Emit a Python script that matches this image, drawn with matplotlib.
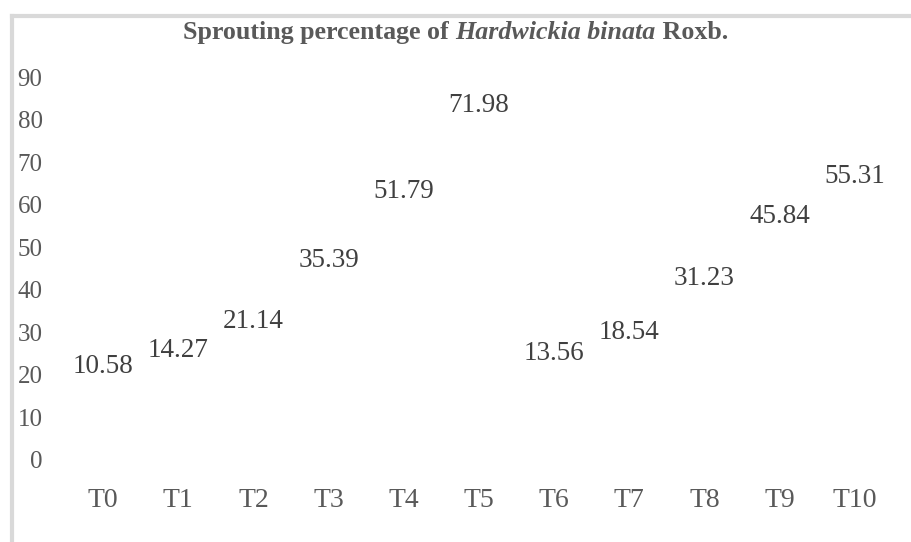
"""
Sprouting percentage of Hardwickia binata Roxb. (label-only column chart)

Output:
    out.png
"""
import matplotlib as mpl
import matplotlib.pyplot as plt
from matplotlib.lines import Line2D

TREATMENTS = ["T0", "T1", "T2", "T3", "T4", "T5", "T6", "T7", "T8", "T9", "T10"]
SPROUTING = [10.58, 14.27, 21.14, 35.39, 51.79, 71.98, 13.56, 18.54, 31.23, 45.84, 55.31]
Y_TICKS = [0, 10, 20, 30, 40, 50, 60, 70, 80, 90]

FIG_W, FIG_H = 912, 542
DPI = 100

COLOR_TICK = "#595959"
COLOR_LABEL = "#404040"
COLOR_FRAME = "#d9d9d9"
TITLE_SIZE = 18.7


def main() -> None:
    mpl.rcParams["font.family"] = ["Liberation Serif", "DejaVu Serif"]

    fig = plt.figure(figsize=(FIG_W / DPI, FIG_H / DPI), dpi=DPI)
    ax = fig.add_axes([65.5 / FIG_W, (FIG_H - 460) / FIG_H,
                       827 / FIG_W, 383 / FIG_H])

    x = list(range(len(TREATMENTS)))
    # bars are invisible in the original, only data labels are shown
    ax.bar(x, SPROUTING, width=0.6, color="none", edgecolor="none")
    for xi, v in zip(x, SPROUTING):
        ax.annotate(f"{v:.2f}", xy=(xi, v), xytext=(0, 42),
                    textcoords="offset pixels", ha="center", va="baseline",
                    fontsize=19.5, color=COLOR_LABEL)

    ax.set_xlim(-0.5, len(TREATMENTS) - 0.5)
    ax.set_ylim(0, 90)
    ax.set_xticks(x)
    ax.set_xticklabels(TREATMENTS)
    ax.set_yticks(Y_TICKS)
    ax.tick_params(axis="y", length=0, pad=16.5, labelsize=18,
                   labelcolor=COLOR_TICK)
    ax.tick_params(axis="x", length=0, pad=20, labelsize=20,
                   labelcolor=COLOR_TICK)
    for spine in ax.spines.values():
        spine.set_visible(False)

    # title: bold with italic species name
    y_title = (FIG_H - 39) / FIG_H
    t1 = fig.text(183 / FIG_W, y_title, "Sprouting percentage of ",
                  fontsize=TITLE_SIZE, fontweight="bold", color=COLOR_TICK,
                  ha="left", va="baseline")
    t2 = ax.annotate("Hardwickia binata", xy=(1, 0), xycoords=t1,
                     fontsize=TITLE_SIZE, fontweight="bold", fontstyle="italic",
                     color=COLOR_TICK, ha="left", va="bottom",
                     annotation_clip=False)
    ax.annotate(" Roxb.", xy=(1, 0), xycoords=t2,
                fontsize=TITLE_SIZE, fontweight="bold", color=COLOR_TICK,
                ha="left", va="bottom", annotation_clip=False)

    # chart area frame (only top and left edges visible)
    y_top = (FIG_H - 15.5) / FIG_H
    x_left = 12.5 / FIG_W
    fig.add_artist(Line2D([x_left, 1.0], [y_top, y_top], color=COLOR_FRAME,
                          linewidth=3.0, solid_capstyle="projecting"))
    fig.add_artist(Line2D([x_left, x_left], [0.0, y_top], color=COLOR_FRAME,
                          linewidth=3.0, solid_capstyle="projecting"))

    fig.savefig("out.png", dpi=DPI)
    plt.close(fig)


if __name__ == "__main__":
    main()
